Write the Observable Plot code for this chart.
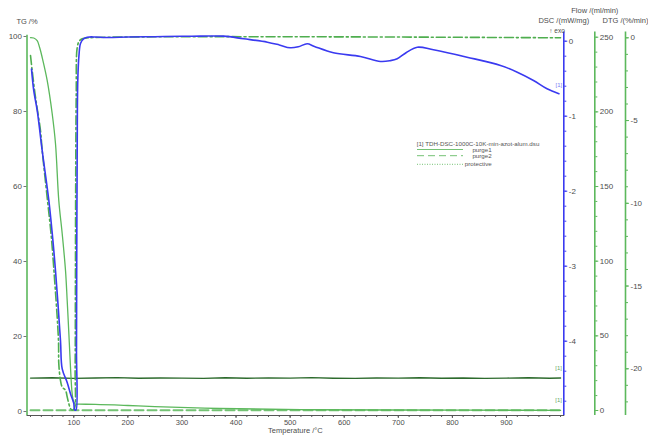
<!DOCTYPE html>
<html><head><meta charset="utf-8">
<script src="https://cdn.jsdelivr.net/npm/d3@7"></script>
<script src="https://cdn.jsdelivr.net/npm/@observablehq/plot@0.6"></script>
<style>
body{margin:0;background:#fff;font-family:"Liberation Sans",Arial,sans-serif;}
#wrap{position:relative;width:648px;height:435px;overflow:hidden;}
#legend{position:absolute;left:416px;top:139px;}
</style></head><body><div id="wrap"></div>
<script>
// ---- data ----
const tgTemp = [20, 26, 32.3, 37, 41.6, 50.8, 60.1, 66.2, 72.3, 78.6, 84.7, 87.8, 91, 93.9, 97, 100, 103, 110, 140, 200, 250, 370, 520, 700, 1000];
const tgVals = [99.7, 99.6, 98.9, 97, 94.4, 88.3, 79.4, 71.4, 56.2, 47.4, 37.6, 29.6, 20.5, 11.8, 4.8, 2.5, 2.0, 1.95, 1.9, 1.6, 1.3, 0.8, 0.5, 0.4, 0.3];

const dscTemp = [21.8, 26, 32.3, 41.6, 53.8, 60.1, 66.2, 75.4, 78.6, 87.8, 93.9, 100, 101.3, 104, 105, 105.5, 106.3, 107.4, 109.6, 112.4, 118, 124.8, 140, 160, 200, 250, 300, 334, 377, 414, 458, 480, 500, 515, 531.5, 545, 580, 630, 667, 685, 698, 715, 735, 765, 827, 889, 920, 950, 975, 997];
const dscVals = [-0.37, -0.66, -0.92, -1.46, -2.12, -2.56, -3.06, -3.99, -4.37, -4.55, -4.70, -4.83, -4.91, -4.92, -4.12, -2.79, -1.46, -0.52, -0.19, -0.03, 0.03, 0.053, 0.056, 0.05, 0.055, 0.06, 0.065, 0.067, 0.067, 0.032, -0.013, -0.05, -0.088, -0.075, -0.035, -0.07, -0.155, -0.204, -0.27, -0.26, -0.235, -0.15, -0.08, -0.115, -0.213, -0.324, -0.413, -0.524, -0.635, -0.70];

const dtgTemp = [20, 23.1, 29.2, 38.4, 41.6, 51.4, 57.8, 63.4, 71.7, 72.3, 75.4, 78.6, 84.7, 87.8, 90.8, 93.9, 98, 101.3, 102.5, 103, 103.5, 104.5, 106.3, 110, 115.5, 127, 1000];
const dtgVals = [-1.07, -1.98, -3.59, -5.6, -6.81, -9.83, -11.8, -14.1, -18.3, -19.7, -20.7, -21.1, -21.3, -21.7, -22.1, -22.4, -22.5, -22.4, -20, -15, -9, -3.5, -0.6, -0.2, -0.06, 0, 0];

const purge1Temp = [20, 60, 100, 140, 180, 220, 260, 300, 340, 380, 420, 460, 500, 540, 580, 620, 660, 700, 740, 780, 820, 860, 900, 940, 980, 1000];
const purge1Vals = [21.7, 21.9, 21.5, 21.8, 22.0, 21.6, 21.8, 21.7, 21.5, 21.9, 21.6, 21.8, 21.7, 22.0, 21.6, 21.5, 21.8, 21.7, 21.9, 21.6, 21.8, 21.5, 21.7, 21.9, 21.6, 21.8];
const purge2Temp = [20, 1000];
const purge2Vals = [0.2, 0.2];

const xMajorTicks = [100, 200, 300, 400, 500, 600, 700, 800, 900];
const tgTicks = [0, 20, 40, 60, 80, 100];
const dscTicks = [0, -1, -2, -3, -4];
const flowTicks = [0, 50, 100, 150, 200, 250];
const dtgTicks = [0, -5, -10, -15, -20];

const legendTitle = "[1] TDH-DSC-1000C-10K-min-azot-alum.dsu";
const legendLabels = ["purge1", "purge2", "protective"];

// ---- secondary axis calibrations (expressed in TG units) ----
const dscToTG = d => 98.75 + 20 * d, tgToDsc = t => (t - 98.75) / 20;
const dtgToTG = g => 99.65 + 4.413 * g, tgToDtg = t => (t - 99.65) / 4.413;
const flowToTG = f => 0.267 + 0.39817 * f, tgToFlow = t => (t - 0.267) / 0.39817;
const fmt = v => { const r = Math.round(v * 10) / 10; return String(Object.is(r, -0) ? 0 : r); };

const zip = (ts, vs) => ts.map((t, i) => ({t, v: vs[i]}));
const tg = zip(tgTemp, tgVals), dsc = zip(dscTemp, dscVals), dtg = zip(dtgTemp, dtgVals);
const p1 = zip(purge1Temp, purge1Vals), p2 = zip(purge2Temp, purge2Vals);

const blue = "#3a3af0", green = "#5cb85c", dash = "#4fae4f", dark = "#2d6b2d", light = "#74c274", gray = "#4d4d4d";
const xDom = [13.5, 1006], yDom = [-1.066, 100], axisTop = 101.2;
const dx2 = 31, dx3 = 61.7;

const plot = Plot.plot({
  width: 648, height: 435,
  marginLeft: 26.5, marginRight: 84.7, marginTop: 36, marginBottom: 20,
  x: {domain: xDom}, y: {domain: yDom},
  style: {fontFamily: "Liberation Sans, Arial, sans-serif", fontSize: "8px", color: gray, background: "white"},
  marks: [
    // x axis
    Plot.frame({anchor: "bottom", stroke: "#555"}),
    Plot.axisX({ticks: xMajorTicks, tickSize: 3, tickPadding: 1, tickFormat: d => String(d), label: null, stroke: "#555", fontSize: 7.5}),
    Plot.axisX({ticks: d3.range(20, 1001, 20), tickSize: 2, tickFormat: () => "", label: null, stroke: "#555"}),
    Plot.text(["Temperature /°C"], {frameAnchor: "bottom", dy: 17, fontSize: 7.5, fill: gray}),
    // TG axis (left)
    Plot.ruleX([xDom[0]], {y1: yDom[0], y2: 100.3, stroke: green, strokeWidth: 1.6}),
    Plot.axisY({anchor: "left", ticks: tgTicks, tickSize: 3, tickPadding: 2, tickFormat: d => String(d), label: null, stroke: "#777"}),
    Plot.text(["TG /%"], {frameAnchor: "top-left", dy: -18, textAnchor: "middle", fontSize: 7.5, fill: gray}),
    // DSC axis (blue)
    Plot.ruleX([xDom[1]], {y1: yDom[0], y2: axisTop, stroke: blue, strokeWidth: 1.6}),
    Plot.axisY({anchor: "right", ticks: dscTicks.map(dscToTG), tickFormat: t => fmt(tgToDsc(t)), tickSize: 3, tickPadding: 2, label: null, stroke: blue}),
    Plot.axisY({anchor: "right", ticks: d3.range(0, -4.81, -0.2).map(dscToTG), tickFormat: () => "", tickSize: 2, label: null, stroke: blue}),
    Plot.text(["DSC /(mW/mg)"], {frameAnchor: "top-right", dy: -18.7, textAnchor: "middle", fontSize: 7.5, fill: gray}),
    Plot.text(["↑ exo"], {frameAnchor: "top-right", dx: 1, dy: -7.7, textAnchor: "end", fontSize: 6.5, fill: gray}),
    // Flow axis
    Plot.ruleX([xDom[1]], {dx: dx2, y1: yDom[0], y2: axisTop, stroke: green, strokeWidth: 1.6}),
    Plot.axisY({anchor: "right", dx: dx2, ticks: flowTicks.map(flowToTG), tickFormat: t => fmt(tgToFlow(t)), tickSize: 3, tickPadding: 2, label: null, stroke: green}),
    Plot.axisY({anchor: "right", dx: dx2, ticks: d3.range(0, 251, 10).map(flowToTG), tickFormat: () => "", tickSize: 2, label: null, stroke: green}),
    Plot.text(["Flow /(ml/min)"], {frameAnchor: "top-right", dx: dx2, dy: -28.7, textAnchor: "middle", fontSize: 7.5, fill: gray}),
    // DTG axis
    Plot.ruleX([xDom[1]], {dx: dx3, y1: yDom[0], y2: axisTop, stroke: green, strokeWidth: 1.6}),
    Plot.axisY({anchor: "right", dx: dx3, ticks: dtgTicks.map(dtgToTG), tickFormat: t => fmt(tgToDtg(t)), tickSize: 3, tickPadding: 2, label: null, stroke: green}),
    Plot.axisY({anchor: "right", dx: dx3, ticks: d3.range(0, -22.1, -1).map(dtgToTG), tickFormat: () => "", tickSize: 2, label: null, stroke: green}),
    Plot.text(["DTG /(%/min)"], {frameAnchor: "top-right", dx: dx3, dy: -18.7, textAnchor: "middle", fontSize: 7.5, fill: gray}),
    // curves
    Plot.line(p2, {x: "t", y: d => flowToTG(d.v), stroke: light, strokeWidth: 2, strokeDasharray: "9,4"}),
    Plot.line(p1, {x: "t", y: d => flowToTG(d.v), stroke: dark, strokeWidth: 1.4}),
    Plot.line(tg, {x: "t", y: "v", stroke: green, strokeWidth: 1.3, curve: "catmull-rom"}),
    Plot.line(dtg, {x: "t", y: d => dtgToTG(d.v), stroke: dash, strokeWidth: 1.6, strokeDasharray: "9,3,2,3", curve: "catmull-rom"}),
    Plot.line(dsc, {x: "t", y: d => dscToTG(d.v), stroke: blue, strokeWidth: 1.6, curve: "catmull-rom"}),
    // curve tags
    Plot.text(dsc, Plot.selectLast({x: "t", y: d => dscToTG(d.v), text: () => "[1]", dy: -8.3, fontSize: 6, fill: "#7a7af5"})),
    Plot.text(p1, Plot.selectLast({x: "t", y: d => flowToTG(d.v), text: () => "[1]", dx: -2, dy: -9.5, fontSize: 6, fill: "#6aa86a"})),
    Plot.text(p2, Plot.selectLast({x: "t", y: d => flowToTG(d.v), text: () => "[1]", dx: -2, dy: -9.7, fontSize: 6, fill: "#6aa86a"}))
  ]
});
const wrap = document.getElementById("wrap");
wrap.appendChild(plot);

// legend (inside the plot area, as in the reference)
const lg = d3.select(wrap).append("svg").attr("id", "legend").attr("width", 140).attr("height", 32)
  .style("font-family", "Liberation Sans, Arial, sans-serif").style("font-size", "6.2px");
lg.append("text").attr("x", 0.7).attr("y", 6.5).attr("fill", "#555").text(legendTitle);
const rows = [10.5, 16.7, 25.3], dashes = [null, "7,4", "1,1.5"];
legendLabels.forEach((lab, i) => {
  lg.append("line").attr("x1", 1).attr("x2", 47).attr("y1", rows[i]).attr("y2", rows[i])
    .attr("stroke", light).attr("stroke-width", 1).attr("stroke-dasharray", dashes[i]);
  lg.append("text").attr("x", 75.7).attr("y", rows[i] + 2).attr("text-anchor", "end").attr("fill", "#555").text(lab);
});
</script></body></html>
